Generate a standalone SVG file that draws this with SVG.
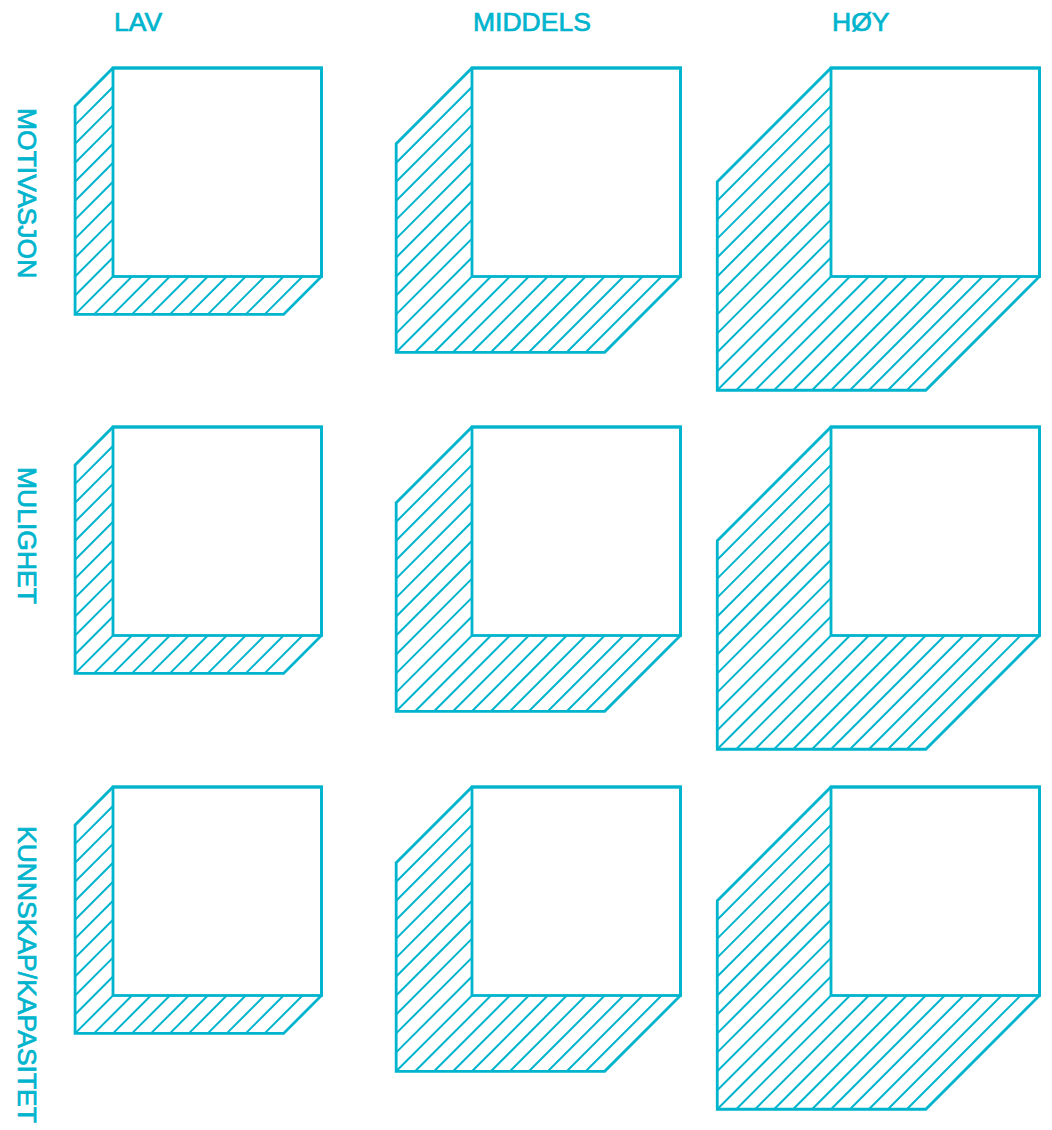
<svg xmlns="http://www.w3.org/2000/svg" xmlns:xlink="http://www.w3.org/1999/xlink" width="1052" height="1130" viewBox="0 0 1052 1130">
<style>
.lbl{font-family:"Liberation Sans",Arial,sans-serif;font-size:26.5px;fill:#00B4CD;stroke:#00B4CD;stroke-width:0.7px;}
.out{fill:none;stroke:#00B4CD;stroke-width:2.8;stroke-linejoin:miter;}
.hat{fill:none;stroke:#00B4CD;stroke-width:2;stroke-linecap:butt;}
</style>
<defs>
<g id="cube-lav">
<path class="hat" d="M75.09 56.86l37.91 -37.91M75.09 75.82l37.91 -37.91M75.09 94.77l37.91 -37.91M75.09 113.73l37.91 -37.91M75.09 132.68l37.91 -37.91M75.09 151.64l37.91 -37.91M75.09 170.59l37.91 -37.91M75.09 189.55l37.91 -37.91M75.09 208.5l37.91 -37.91M75.09 227.45l37.91 -37.91M75.09 246.41l37.91 -37.91M94.05 246.41l37.91 -37.91M113 246.41l37.91 -37.91M131.95 246.41l37.91 -37.91M150.91 246.41l37.91 -37.91M169.86 246.41l37.91 -37.91M188.82 246.41l37.91 -37.91M207.77 246.41l37.91 -37.91M226.73 246.41l37.91 -37.91M245.68 246.41l37.91 -37.91M264.64 246.41l37.91 -37.91"/>
<path class="out" d="M75.09 37.91L113 0H321.5V208.5L283.59 246.41H75.09Z"/>
<rect class="out" x="113" y="0" width="208.5" height="208.5"/>
</g>
<g id="cube-middels">
<path class="hat" d="M396.18 94.77l75.82 -75.82M396.18 113.73l75.82 -75.82M396.18 132.68l75.82 -75.82M396.18 151.64l75.82 -75.82M396.18 170.59l75.82 -75.82M396.18 189.55l75.82 -75.82M396.18 208.5l75.82 -75.82M396.18 227.45l75.82 -75.82M396.18 246.41l75.82 -75.82M396.18 265.36l75.82 -75.82M396.18 284.32l75.82 -75.82M415.14 284.32l75.82 -75.82M434.09 284.32l75.82 -75.82M453.05 284.32l75.82 -75.82M472 284.32l75.82 -75.82M490.95 284.32l75.82 -75.82M509.91 284.32l75.82 -75.82M528.86 284.32l75.82 -75.82M547.82 284.32l75.82 -75.82M566.77 284.32l75.82 -75.82M585.73 284.32l75.82 -75.82"/>
<path class="out" d="M396.18 75.82L472 0H680.5V208.5L604.68 284.32H396.18Z"/>
<rect class="out" x="472" y="0" width="208.5" height="208.5"/>
</g>
<g id="cube-hoy">
<path class="hat" d="M717.27 132.68l113.73 -113.73M717.27 151.64l113.73 -113.73M717.27 170.59l113.73 -113.73M717.27 189.55l113.73 -113.73M717.27 208.5l113.73 -113.73M717.27 227.45l113.73 -113.73M717.27 246.41l113.73 -113.73M717.27 265.36l113.73 -113.73M717.27 284.32l113.73 -113.73M717.27 303.27l113.73 -113.73M717.27 322.23l113.73 -113.73M736.23 322.23l113.73 -113.73M755.18 322.23l113.73 -113.73M774.14 322.23l113.73 -113.73M793.09 322.23l113.73 -113.73M812.05 322.23l113.73 -113.73M831 322.23l113.73 -113.73M849.95 322.23l113.73 -113.73M868.91 322.23l113.73 -113.73M887.86 322.23l113.73 -113.73M906.82 322.23l113.73 -113.73"/>
<path class="out" d="M717.27 113.73L831 0H1039.5V208.5L925.77 322.23H717.27Z"/>
<rect class="out" x="831" y="0" width="208.5" height="208.5"/>
</g>
</defs>
<rect width="1052" height="1130" fill="#FFFFFF"/>
<g id="headers">
<text class="lbl" x="114" y="31">LAV</text>
<text class="lbl" x="473" y="31">MIDDELS</text>
<text class="lbl" x="832" y="31">HØY</text>
</g>
<g id="row-labels">
<text class="lbl" transform="translate(18,108) rotate(90)">MOTIVASJON</text>
<text class="lbl" transform="translate(18,467) rotate(90)">MULIGHET</text>
<text class="lbl" transform="translate(18,826) rotate(90)">KUNNSKAP/KAPASITET</text>
</g>
<g id="cube-motivasjon-lav"><use xlink:href="#cube-lav" href="#cube-lav" y="68"/></g>
<g id="cube-motivasjon-middels"><use xlink:href="#cube-middels" href="#cube-middels" y="68"/></g>
<g id="cube-motivasjon-hoy"><use xlink:href="#cube-hoy" href="#cube-hoy" y="68"/></g>
<g id="cube-mulighet-lav"><use xlink:href="#cube-lav" href="#cube-lav" y="427"/></g>
<g id="cube-mulighet-middels"><use xlink:href="#cube-middels" href="#cube-middels" y="427"/></g>
<g id="cube-mulighet-hoy"><use xlink:href="#cube-hoy" href="#cube-hoy" y="427"/></g>
<g id="cube-kunnskap-lav"><use xlink:href="#cube-lav" href="#cube-lav" y="787"/></g>
<g id="cube-kunnskap-middels"><use xlink:href="#cube-middels" href="#cube-middels" y="787"/></g>
<g id="cube-kunnskap-hoy"><use xlink:href="#cube-hoy" href="#cube-hoy" y="787"/></g>
<g id="connectors"></g>
</svg>
